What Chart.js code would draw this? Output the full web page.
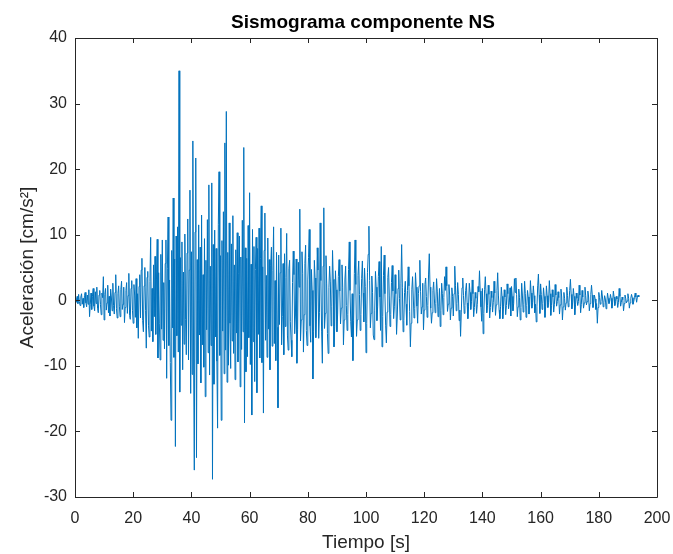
<!DOCTYPE html>
<html>
<head>
<meta charset="utf-8">
<script src="https://cdn.jsdelivr.net/npm/chart.js@4/dist/chart.umd.min.js"></script>
<style>
  html, body { margin: 0; padding: 0; background: #fff; }
  #wrap { width: 673px; height: 554px; }
</style>
</head>
<body>
<div id="wrap"><canvas id="c" width="673" height="554"></canvas></div>
<script>
// Registro de aceleración, componente NS (cm/s²), muestreado cada 0.25 s
const INTERVALO_S = 0.25;

// 0 – 50 s: llegada y fase intensa
const acel_0_50 = [
  0.0, 0.4, -0.3, 0.6, -0.5, 0.9, -0.2, -0.8, 0.5, 1.0,
  -0.6, 0.3, -1.1, 0.7, 1.2, -0.4, -1.0, 0.8, -0.6, 1.6,
  -2.5, -0.7, 1.1, -1.4, 0.6, 1.8, -0.9, -1.6, 1.3, -0.5,
  2.0, -1.2, -1.9, 0.8, 1.5, -0.6, -2.2, 1.1, 0.4, 3.6,

  -3.0, 0.9, 1.8, -1.5, -0.4, 2.3, -1.9, 0.6, -2.4, 1.7,
  0.5, -1.6, 2.6, -0.8, -2.1, 1.2, 3.9, -1.3, -2.7, 1.0,
  2.2, -0.9, -2.5, 1.6, 2.9, -1.4, -0.6, 2.0, -3.4, -1.1,
  1.5, 2.7, -2.0, 0.7, 4.1, -2.3, -2.9, 1.8, 3.0, -1.6,

  -3.5, 2.4, 0.8, -2.6, 3.3, -4.2, 1.0, -5.8, 2.1, 3.9,
  -2.7, 4.6, 6.4, -3.1, -4.8, 2.2, 5.0, -1.6, -7.3, 3.5,
  4.4, -3.8, -5.6, 2.9, 9.6, -4.7, 1.8, -6.3, 5.4, -2.5,
  6.7, -5.2, 3.1, 9.3, -8.8, 4.2, -3.6, -9.1, 7.0, -4.4,

  9.2, -6.1, 2.7, -7.4, 5.6, 9.2, -11.9, 4.8, 12.7, -6.9,
  3.1, -9.5, -18.3, 7.6, -4.2, 15.6, -8.7, 6.3, -22.3, 9.8,
  -5.4, 11.2, -7.9, 35.0, -14.0, 6.5, -3.8, 8.9, -10.6, 4.3,
  -6.7, 10.1, -2.9, -8.3, 7.2, 12.4, -9.1, 4.6, 16.8, -14.2,

  7.4, -11.3, 24.3, -8.8, -25.9, 10.4, 21.7, -24.0, 6.2, -9.7,
  11.5, -5.3, 8.1, -12.6, 13.0, -6.8, 3.9, -10.2, 9.4, -14.7,
  6.1, -4.5, 12.3, -8.0, 17.6, -11.4, 5.2, -6.9, 17.9, -27.3,
  8.5, -12.8, 10.7, -5.6, 7.9, -9.3, -19.5, 11.6, 19.6, -8.4
];

// 50 – 100 s: fin de la fase intensa
const acel_50_100 = [
  6.8, -18.3, 9.1, -4.7, 13.5, -11.2, 24.0, -7.6, 28.8, -12.5,
  7.3, -9.9, 11.8, -3.5, -10.4, 8.6, -6.2, 12.9, -8.1, 5.4,
  -12.1, 7.7, -5.0, 10.3, -9.4, 4.1, 9.8, -13.2, 6.6, -7.5,
  12.2, -4.8, 23.3, -18.7, 8.0, -10.9, 6.4, -8.6, 11.4, -5.7,

  16.4, -9.8, 5.5, -17.5, 10.8, -6.3, 8.2, -12.4, 4.7, 9.6,
  -14.1, 7.9, -5.2, 11.0, -8.8, 6.4, 14.4, -9.5, 5.1, -17.2,
  7.6, 13.3, -6.1, 3.8, -8.7, 9.5, -4.4, 6.2, -10.6, 5.3,
  8.1, -7.0, 4.5, 11.2, -6.6, 3.0, -9.2, 7.3, -4.1, -16.4,

  6.9, -3.7, 4.2, 11.0, -6.8, -2.5, 5.6, -8.3, 7.1, -4.0,
  3.5, 10.2, -5.3, -7.6, 4.8, 6.1, -3.2, -6.1, -8.6, 2.7,
  7.5, 3.9, -5.1, -2.4, 6.3, -9.6, -4.5, 5.8, 2.0, 13.9,
  -6.2, -3.0, 7.4, 4.1, -7.9, -2.2, 5.6, 8.4, -4.6, -6.9,

  3.1, 6.5, 10.8, -3.9, -6.4, 4.7, 1.5, -12.0, -4.8, 6.1,
  3.4, -5.7, -2.1, 8.0, 4.6, -5.8, -1.9, 11.8, 3.0, -4.7,
  -9.6, 5.2, 14.1, -4.3, -2.0, 6.8, 2.5, -5.1, -8.1, 1.9,
  5.2, 2.8, -3.9, -1.0, 7.6, 3.2, -7.1, -4.0, 4.5, 1.6,

  -4.8, -2.1, 3.6, 6.2, 1.4, -3.6, -1.2, 5.4, 2.0, -6.8,
  -3.0, 3.1, 5.2, -0.8, -4.6, -2.2, 4.7, 8.9, 1.5, -3.2,
  -5.6, 1.0, -9.2, -3.1, 4.1, 9.2, 2.4, -5.5, -3.0, 3.8,
  6.0, 0.9, -4.6, -2.2, 3.3, 6.0, 1.1, -3.3, 4.9, 2.1
];

// 100 – 150 s: coda
const acel_100_150 = [
  -8.0, -3.5, 4.2, 7.0, 11.3, 3.0, -4.2, -2.0, 3.7, 1.2,
  -5.3, -6.0, -1.5, 4.4, 2.0, -3.1, -1.0, 3.6, 5.9, 0.5,
  -4.6, 8.2, -7.1, -2.5, 3.8, 6.9, 1.0, -3.9, -6.5, -1.8,
  3.5, 5.0, 0.8, -4.0, -2.2, 2.7, 5.3, 1.4, -2.8, -1.0,

  3.9, 1.0, -5.2, -2.4, 1.8, 4.6, 0.3, -3.0, 2.5, 8.5,
  2.0, -4.8, -3.1, 1.2, 2.9, -0.6, -3.8, 1.5, 5.1, 2.2,
  -1.7, -7.1, -3.5, 1.6, 3.6, 0.5, -2.7, -1.3, 4.2, 2.0,
  -0.9, -3.5, 1.0, 2.2, 6.1, 1.3, -2.1, -1.0, 2.6, -4.5,

  -1.5, 2.4, 3.4, 0.6, -2.6, -0.8, 4.0, 7.1, 2.0, -1.2,
  -3.5, -1.9, 1.5, 2.8, 0.2, -1.9, -0.5, 3.3, 1.4, -2.5,
  -1.0, 1.8, -4.0, -1.6, 2.6, 1.0, -2.2, 0.4, 3.6, 1.5,
  5.1, 2.2, -1.7, -0.6, 2.4, 0.8, -3.0, -1.2, 1.9, 0.6,

  -2.4, 1.0, 5.2, 2.3, -1.6, -0.5, 2.7, 0.9, -3.1, -1.5,
  -5.5, -1.8, 1.9, 3.4, 0.7, -2.0, -0.8, 1.5, 2.6, -0.4,
  -2.8, -0.9, 2.6, 1.2, -1.4, -0.2, 3.1, 1.0, -2.5, -1.1,
  1.2, 0.3, -2.0, -0.6, 2.1, 1.3, 4.5, 1.4, -1.0, -3.2,

  1.8, -5.1, -2.0, 1.6, 3.6, 1.0, -1.9, -0.8, 2.3, 0.9,
  -2.7, -1.1, 1.4, 0.4, -1.8, -0.3, 2.9, 1.1, -2.3, -0.7,
  1.5, 4.2, 0.8, -1.5, -2.8, -0.9, 2.0, 0.6, -2.8, -1.0,
  1.6, 0.5, -2.2, -0.8, 2.5, 1.0, -1.3, -0.4, 1.9, -2.4
];

// 150 – 194 s: final del registro
const acel_150_194 = [
  2.1, 0.6, -1.6, -0.5, 3.3, 1.2, 3.4, 0.9, -2.5, -1.0,
  1.7, 0.4, -3.0, -1.1, 2.6, 0.8, -1.8, -0.6, 2.9, 1.0,
  -2.6, -0.8, 1.5, 0.5, -2.1, -0.7, 3.0, 1.1, -1.2, -0.3,
  2.2, 0.7, -1.9, -0.6, -3.3, -1.0, 2.2, 4.0, 0.8, -2.0,

  2.5, 0.9, -1.4, -0.5, 1.9, 0.6, -2.6, -0.9, 2.2, 0.7,
  -1.1, -0.3, 3.0, 1.0, -2.3, -0.8, 1.6, 0.5, -1.8, -0.6,
  2.4, 0.8, -0.9, -0.2, 1.3, 0.4, -2.1, -0.7, 1.7, 0.5,
  -3.0, -1.0, 1.2, 0.3, -1.5, -0.4, 2.0, 0.7, -1.0, -0.3,

  1.5, 3.2, 0.9, -1.3, -0.4, 1.8, 0.6, -2.2, -0.7, 1.1,
  0.3, -0.8, -0.2, 2.3, 0.8, -1.9, -0.6, 1.5, 0.5, -1.2,
  -0.4, 2.0, 0.7, -0.7, -0.2, 1.4, 0.5, -1.6, -0.5, 0.9,
  2.3, 0.8, -1.1, -0.3, 0.8, 0.2, -1.4, -0.5, -3.5, -1.1,

  1.2, 0.4, -0.6, -0.2, 1.5, 0.5, -1.0, -0.3, 0.7, 0.2,
  -1.3, -0.4, 1.1, 0.3, -0.5, -0.1, 0.9, 0.3, -1.2, -0.4,
  1.4, 0.5, -0.8, -0.2, 0.6, 0.2, -1.1, -0.3, 1.8, 0.6,
  -0.9, -0.3, 0.5, 0.1, -1.6, -0.5, 0.8, 0.3, -0.4, -0.1,

  1.0, 0.3, -1.2, -0.4, 0.3, 0.9, 0.4, -0.6, -0.2, 0.4,
  1.1, 0.5, -0.3, 0.5, 0.8, 0.5
];

const TITULO = 'Sismograma componente NS';
const ETIQUETA_X = 'Tiempo [s]';
const ETIQUETA_Y = 'Aceleración [cm/s²]';

const aceleracion = [].concat(acel_0_50, acel_50_100, acel_100_150, acel_150_194);
const puntos = aceleracion.map((a, i) => ({ x: i * INTERVALO_S, y: a }));

const COLOR_EJE = '#262626';
const FUENTE = "'Liberation Sans', Arial, Helvetica, sans-serif";

// Caja alrededor del área de trazado con marcas hacia adentro en los cuatro lados,
// y título centrado sobre el área de trazado
const cajaEjes = {
  id: 'cajaEjes',
  afterDatasetsDraw(chart) {
    const { ctx, chartArea: a, scales } = chart;
    const L = 5;
    ctx.save();
    ctx.strokeStyle = COLOR_EJE;
    ctx.lineWidth = 1;
    ctx.beginPath();
    ctx.rect(Math.round(a.left) + 0.5, Math.round(a.top) + 0.5,
             Math.round(a.right - a.left), Math.round(a.bottom - a.top));
    scales.x.ticks.forEach(t => {
      const px = Math.round(scales.x.getPixelForValue(t.value)) + 0.5;
      ctx.moveTo(px, a.bottom); ctx.lineTo(px, a.bottom - L);
      ctx.moveTo(px, a.top); ctx.lineTo(px, a.top + L);
    });
    scales.y.ticks.forEach(t => {
      const py = Math.round(scales.y.getPixelForValue(t.value)) + 0.5;
      ctx.moveTo(a.left, py); ctx.lineTo(a.left + L, py);
      ctx.moveTo(a.right, py); ctx.lineTo(a.right - L, py);
    });
    ctx.stroke();

    ctx.fillStyle = '#000';
    ctx.font = 'bold 19px ' + FUENTE;
    ctx.textAlign = 'center';
    ctx.textBaseline = 'alphabetic';
    ctx.fillText(TITULO, (a.left + a.right) / 2 - 3, a.top - 10);
    ctx.restore();
  }
};

new Chart(document.getElementById('c'), {
  type: 'line',
  data: {
    datasets: [{
      data: puntos,
      borderColor: '#0072BD',
      borderWidth: 1,
      pointRadius: 0,
      tension: 0,
      fill: false
    }]
  },
  options: {
    responsive: false,
    animation: false,
    events: [],
    layout: { padding: { left: 0, right: 16, top: 38, bottom: 0 } },
    plugins: {
      legend: { display: false },
      tooltip: { enabled: false },
      title: { display: false }
    },
    scales: {
      x: {
        type: 'linear',
        min: 0, max: 200,
        grid: { display: false },
        border: { display: false },
        ticks: { stepSize: 20, color: COLOR_EJE, padding: 4, maxRotation: 0,
                 font: { family: FUENTE, size: 16 } },
        title: { display: true, text: ETIQUETA_X, color: COLOR_EJE,
                 font: { family: FUENTE, size: 19 }, padding: { top: 0, bottom: 0 } },
        afterFit(s) { s.height = 57; s.paddingLeft = 0; s.paddingRight = 0; }
      },
      y: {
        type: 'linear',
        min: -30, max: 40,
        grid: { display: false },
        border: { display: false },
        ticks: { stepSize: 10, color: COLOR_EJE, padding: 0,
                 font: { family: FUENTE, size: 16 } },
        title: { display: true, text: ETIQUETA_Y, color: COLOR_EJE,
                 font: { family: FUENTE, size: 19 }, padding: { top: 16, bottom: 0 } },
        afterFit(s) { s.width = 75; s.paddingTop = 0; s.paddingBottom = 0; }
      }
    }
  },
  plugins: [cajaEjes]
});
</script>
</body>
</html>
